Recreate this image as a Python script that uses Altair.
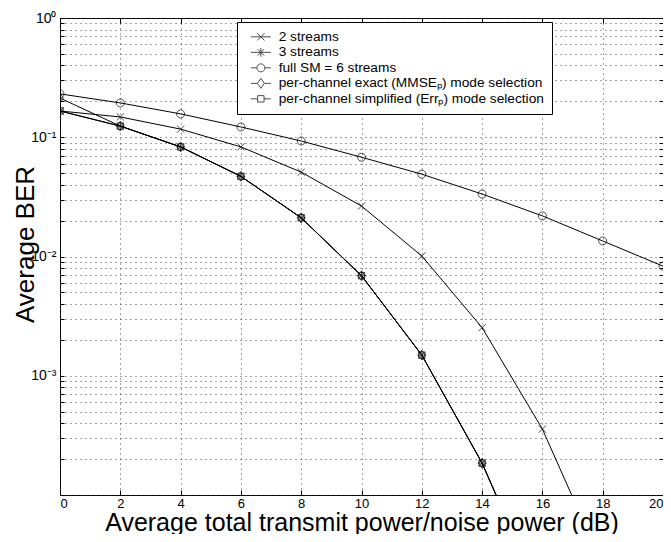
import altair as alt
import pandas as pd

# ---------------- data ----------------
snr_db = [0, 2, 4, 6, 8, 10, 12, 14, 16, 18, 20]

series_names = [
    "2 streams",
    "3 streams",
    "full SM = 6 streams",
    "per-channel exact (MMSEₚ) mode selection",
    "per-channel simplified (Errₚ) mode selection",
]

ber_2_streams = [0.166, 0.148, 0.117, 0.083, 0.051, 0.0265, 0.0101, 0.00253, 0.000357, 0.000026]
ber_3_streams = [0.166, 0.124, 0.083, 0.047, 0.0211, 0.0069, 0.00149, 0.000185, 0.000013]
ber_full_sm = [0.231, 0.194, 0.157, 0.122, 0.093, 0.068, 0.049, 0.0334, 0.0219, 0.0135, 0.0083]
ber_exact = [0.213, 0.124, 0.083, 0.047, 0.0211, 0.0069, 0.00149, 0.000185, 0.000013]
ber_simplified = [0.166, 0.124, 0.083, 0.047, 0.0211, 0.0069, 0.00149, 0.000185, 0.000013]

x_ticks = [0, 2, 4, 6, 8, 10, 12, 14, 16, 18, 20]
y_ticks = [m * 10 ** k for k in (-4, -3, -2, -1) for m in range(1, 10)] + [1]

# marker shapes (plot) and legend symbols (line through marker)
marker_paths = [
    "M-0.9,-0.9L0.9,0.9M-0.9,0.9L0.9,-0.9",
    "M0,-1.1V1.1M-1.1,0H1.1M-0.8,-0.8L0.8,0.8M-0.8,0.8L0.8,-0.8",
    "M-1,0A1,1,0,1,1,1,0A1,1,0,1,1,-1,0Z",
    "M0,-1.25L0.85,0L0,1.25L-0.85,0Z",
    "M-0.8,-0.8H0.8V0.8H-0.8Z",
]
legend_paths = [
    "M-2.5,0H2.5M-0.9,-0.9L0.9,0.9M-0.9,0.9L0.9,-0.9",
    "M-2.5,0H2.5M0,-1.1V1.1M-0.8,-0.8L0.8,0.8M-0.8,0.8L0.8,-0.8",
    "M-2.5,0H-1M1,0H2.5M-1,0A1,1,0,1,1,1,0A1,1,0,1,1,-1,0Z",
    "M-2.5,0H-0.85M0.85,0H2.5M0,-1.25L0.85,0L0,1.25L-0.85,0Z",
    "M-2.5,0H-0.8M0.8,0H2.5M-0.8,-0.8H0.8V0.8H-0.8Z",
]

rows = []
for name, vals in zip(series_names, [ber_2_streams, ber_3_streams, ber_full_sm, ber_exact, ber_simplified]):
    for x, v in zip(snr_db, vals):
        rows.append({"series": name, "snr": x, "ber": v})
df = pd.DataFrame(rows)

FONT = "Liberation Sans"

x_scale = alt.Scale(domain=[0, 20], nice=False, zero=False)
y_scale = alt.Scale(type="log", domain=[1e-4, 1], nice=False)

label_expr = ("datum.value == 1 ? '10⁰' : datum.value == 0.1 ? '10⁻¹' : "
              "datum.value == 0.01 ? '10⁻²' : datum.value == 0.001 ? '10⁻³' : ''")

base = alt.Chart(df)

lines = base.mark_line(clip=True, color="black", strokeWidth=1).encode(
    x=alt.X("snr:Q", scale=x_scale,
            axis=alt.Axis(values=x_ticks, title="Average total transmit power/noise power (dB)",
                          grid=True, domain=False, tickSize=alt.ExprRef("-5"), labelPadding=7,
                          labelFontSize=13, titleFontSize=25, titleY=35, titleBaseline="alphabetic")),
    y=alt.Y("ber:Q", scale=y_scale,
            axis=alt.Axis(values=y_ticks, labelExpr=label_expr, title="Average BER",
                          grid=True, domain=False, tickSize=alt.ExprRef("-4"), labelPadding=8,
                          labelFontSize=14, titleFontSize=26, titleX=-27, titleY=226,
                          titleAngle=270, titleBaseline="alphabetic")),
    detail="series:N",
)

points = base.mark_point(clip=True, filled=False, color="black", size=64, strokeWidth=1).encode(
    x=alt.X("snr:Q", scale=x_scale, axis=None),
    y=alt.Y("ber:Q", scale=y_scale, axis=None),
    shape=alt.Shape("series:N", scale=alt.Scale(domain=series_names, range=marker_paths), legend=None),
)

legend_layer = base.transform_filter("false").mark_point(filled=False, color="black", size=64, strokeWidth=1).encode(
    x=alt.X("snr:Q", scale=x_scale,
            axis=alt.Axis(orient="top", values=x_ticks, labels=False, grid=False, domain=False,
                          tickSize=alt.ExprRef("-5"), title=None)),
    y=alt.Y("ber:Q", scale=y_scale,
            axis=alt.Axis(orient="right", values=y_ticks, labels=False, grid=False, domain=False,
                          tickSize=alt.ExprRef("-4"), title=None)),
    shape=alt.Shape("series:N", scale=alt.Scale(domain=series_names, range=legend_paths),
                    legend=alt.Legend(title=None, orient="none", legendX=177, legendY=4,
                                      fillColor="white", strokeColor="black", padding=8,
                                      symbolSize=64, symbolOffset=9, labelOffset=11,
                                      labelFontSize=13.7, labelFont=FONT, rowPadding=0.5,
                                      symbolStrokeColor="black", symbolStrokeWidth=1,
                                      symbolFillColor="transparent", labelLimit=400)),
)

chart = alt.layer(lines, points, legend_layer).resolve_scale(
    shape="independent"
).resolve_axis(
    x="independent", y="independent"
).properties(
    width=603, height=477,
    autosize=alt.AutoSizeParams(type="none"),
    padding={"left": 52, "top": 10, "right": 0, "bottom": 39},
).configure_view(
    stroke="black", strokeWidth=1
).configure_axis(
    labelFont=FONT, titleFont=FONT, titleFontWeight="normal", labelColor="black", titleColor="black",
    gridColor="#333", gridDash=[1, 4], gridWidth=1, gridOpacity=0.9,
    tickColor="black", tickWidth=1,
).configure_legend(
    labelColor="black"
)

chart.save("out.html", embed_options={"renderer": "svg", "actions": False})
